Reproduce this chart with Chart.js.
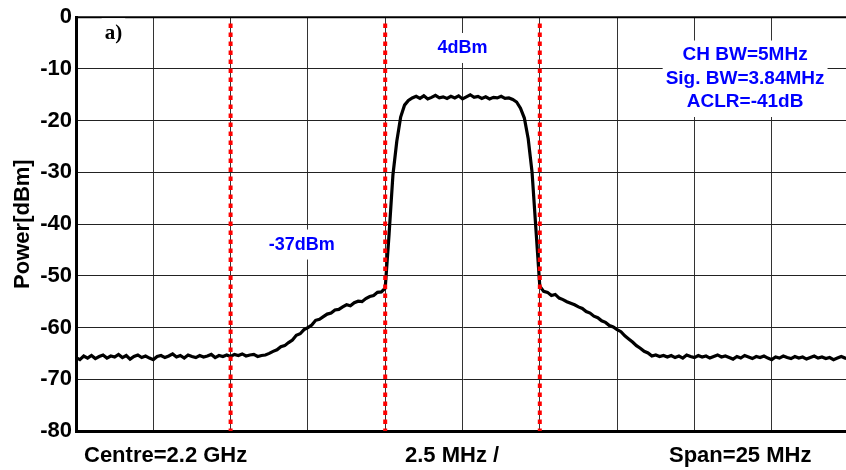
<!DOCTYPE html>
<html>
<head>
<meta charset="utf-8">
<script src="https://cdn.jsdelivr.net/npm/chart.js@4.4.1/dist/chart.umd.min.js"></script>
<style>
  html, body { margin: 0; padding: 0; background: #fff; overflow: hidden; }
  #wrap { position: relative; width: 852px; height: 470px; }
</style>
</head>
<body>
<div id="wrap"><canvas id="spectrum"></canvas></div>
<script>
// --- DATA ---
// analyzer sweep: 0..25 MHz span, one reading every 0.125 MHz
const sweepStartMHz = 0;
const sweepStepMHz = 0.125;
const powerDbm = [
    // 0 .. 6 MHz (noise floor)
    -65.8, -66.2, -65.5, -65.9, -65.4, -66.0, -65.6, -65.3, -65.9,
    -65.5, -65.7, -65.2, -65.8, -65.4, -66.1, -65.6, -65.3,
    -65.8, -65.5, -65.9, -66.2, -65.6, -65.4, -65.8, -65.5,
    -65.1, -65.7, -65.4, -65.9, -65.3, -65.6, -65.8, -65.4,
    -65.7, -65.5, -65.2, -65.8, -65.4, -65.6, -65.3, -65.6,
    -65.2, -65.4, -65.1, -65.5, -65.3, -65.2, -65.6, -65.4,
    // 6.125 .. 10 MHz (lower shoulder)
    -65.3, -65.0, -64.6, -64.3, -63.7, -63.5, -62.9, -62.4,
    -61.5, -61.2, -60.4, -60.0, -59.5, -58.6, -58.4, -57.9,
    -57.4, -57.2, -56.6, -56.5, -56.0, -55.6, -55.8, -55.2,
    -54.9, -55.0, -54.4, -54.0, -53.8, -53.2, -53.1, -52.4,
    // 10.125 .. 10.875 MHz (rising edge)
    -42.0, -30.5, -24.0, -19.3, -17.0, -16.1, -15.6,
    // 11 .. 13.875 MHz (channel top)
    -15.3, -15.7, -15.2, -15.8, -15.5, -15.1, -15.6, -15.4,
    -15.7, -15.3, -15.6, -15.2, -15.8, -15.4, -15.0, -15.5,
    -15.3, -15.7, -15.4, -15.8, -15.5, -15.6, -15.3, -15.7,
    // 14 .. 15 MHz (falling edge)
    -15.6, -15.9, -16.4, -17.6, -19.5, -23.5, -30.0, -41.0, -52.0,
    // 15.125 .. 19 MHz (upper shoulder)
    -53.0, -53.2, -53.8, -53.6, -54.3, -54.6, -55.0, -55.3,
    -55.6, -56.0, -56.3, -56.9, -57.2, -57.8, -58.1, -58.7,
    -59.0, -59.6, -59.9, -60.4, -60.8, -61.6, -62.2, -62.8,
    -63.5, -64.0, -64.6, -64.9, -65.5, -65.3, -65.6, -65.4,
    // 19.125 .. 25 MHz (noise floor)
    -65.7, -65.4, -65.8, -65.5, -65.9, -65.3, -65.6, -65.8,
    -65.4, -65.7, -65.5, -65.9, -65.6, -65.3, -65.7, -65.5,
    -65.8, -66.1, -65.6, -65.9, -65.4, -65.7, -66.0, -65.6,
    -65.8, -65.5, -65.9, -66.2, -65.7, -65.9, -65.5, -65.8,
    -66.0, -65.6, -65.9, -65.7, -66.1, -65.8, -65.5, -65.9,
    -65.7, -66.0, -65.8, -66.2, -65.9, -65.6, -65.9, -66.0
];
const channelEdgesMHz = [5, 10, 15];
const spanMHz = [0, 25];
const divMHz = 2.5;
const yRange = [-80, 0];
const yStep = 10;

const bottomLabels = ["Centre=2.2 GHz", "2.5 MHz /", "Span=25 MHz"];
const infoLines = ["CH BW=5MHz", "Sig. BW=3.84MHz", "ACLR=-41dB"];
const inBandLabel = "4dBm";
const adjLabel = "-37dBm";
const panelLabel = "a)";

// --- CHART ---
const SANS = '"Liberation Sans", Arial, sans-serif';
const BLUE = '#0000ff';

const spectrumPoints = powerDbm.map((p, i) => ({ x: sweepStartMHz + i * sweepStepMHz, y: p }));

const edgeSets = channelEdgesMHz.map(f => ({
    data: [{ x: f, y: yRange[1] - 1.2 }, { x: f, y: yRange[0] }],
    borderColor: '#ff0000',
    borderWidth: 4,
    borderDash: [4.5, 4.5],
    pointRadius: 0,
    order: 1
}));

// white boxed text, like the figure's text objects
function boxedText(ctx, lines, cx, cy, size, lineH, color, family, pad) {
    ctx.save();
    ctx.font = `bold ${size}px ${family}`;
    const w = Math.max(...lines.map(l => ctx.measureText(l).width));
    const h = lineH * lines.length;
    ctx.fillStyle = '#fff';
    ctx.fillRect(cx - w / 2 - pad, cy - h / 2 - pad, w + pad * 2, h + pad * 2);
    ctx.fillStyle = color;
    ctx.textAlign = 'center';
    ctx.textBaseline = 'middle';
    lines.forEach((l, i) => ctx.fillText(l, cx, cy - h / 2 + lineH * (i + 0.5)));
    ctx.restore();
}

const decorations = {
    id: 'decorations',
    beforeDatasetsDraw(chart) {
        const { ctx, chartArea: a, scales: { x, y } } = chart;
        // top frame line
        ctx.save();
        ctx.strokeStyle = '#000';
        ctx.lineWidth = 2;
        ctx.beginPath();
        ctx.moveTo(a.left, a.top);
        ctx.lineTo(a.right, a.top);
        ctx.stroke();
        ctx.restore();

        boxedText(ctx, [panelLabel], x.getPixelForValue(1.21), y.getPixelForValue(-3.1), 21, 24, '#000', '"Liberation Serif", "Times New Roman", serif', 3);
        boxedText(ctx, [inBandLabel], x.getPixelForValue(12.5), y.getPixelForValue(-5.95), 18, 22, BLUE, SANS, 4);
        boxedText(ctx, [adjLabel], x.getPixelForValue(7.3), y.getPixelForValue(-43.95), 18, 22, BLUE, SANS, 4);
        boxedText(ctx, infoLines, x.getPixelForValue(21.64), y.getPixelForValue(-11.9), 19, 23.5, BLUE, SANS, 3);
    },
    afterDraw(chart) {
        const { ctx, chartArea: a } = chart;
        ctx.save();
        ctx.font = `bold 22px ${SANS}`;
        ctx.fillStyle = '#000';
        ctx.textBaseline = 'middle';
        const ty = a.bottom + 25;
        ctx.textAlign = 'left';
        ctx.fillText(bottomLabels[0], a.left + 8, ty);
        ctx.fillText(bottomLabels[1], a.left + 329, ty);
        ctx.fillText(bottomLabels[2], a.left + 593, ty);
        ctx.restore();
    }
};

new Chart(document.getElementById('spectrum'), {
    type: 'line',
    data: {
        datasets: [{
            data: spectrumPoints,
            borderColor: '#000',
            borderWidth: 3.2,
            pointRadius: 0,
            tension: 0,
            order: 2
        }, ...edgeSets]
    },
    options: {
        responsive: true,
        maintainAspectRatio: false,
        animation: false,
        events: [],
        layout: { padding: { top: 14, right: 3, left: 0, bottom: 0 } },
        plugins: { legend: { display: false }, tooltip: { enabled: false } },
        scales: {
            x: {
                type: 'linear',
                min: spanMHz[0],
                max: spanMHz[1],
                ticks: { stepSize: divMHz, callback: () => '', padding: 0 },
                grid: { color: '#333', lineWidth: 1, drawTicks: false },
                border: { color: '#000', width: 3 },
                afterFit: s => { s.height = 39; }
            },
            y: {
                min: yRange[0],
                max: yRange[1],
                ticks: {
                    stepSize: yStep,
                    color: '#000',
                    padding: 4,
                    font: { family: SANS, size: 22, weight: 'bold' }
                },
                grid: { color: '#222', lineWidth: 1, drawTicks: false },
                border: { color: '#000', width: 3 },
                title: {
                    display: true,
                    text: 'Power[dBm]',
                    color: '#000',
                    font: { family: SANS, size: 22, weight: 'bold' },
                    padding: { top: 10, bottom: 0 }
                },
                afterFit: s => { s.width = 76; }
            }
        }
    },
    plugins: [decorations]
});
</script>
</body>
</html>
